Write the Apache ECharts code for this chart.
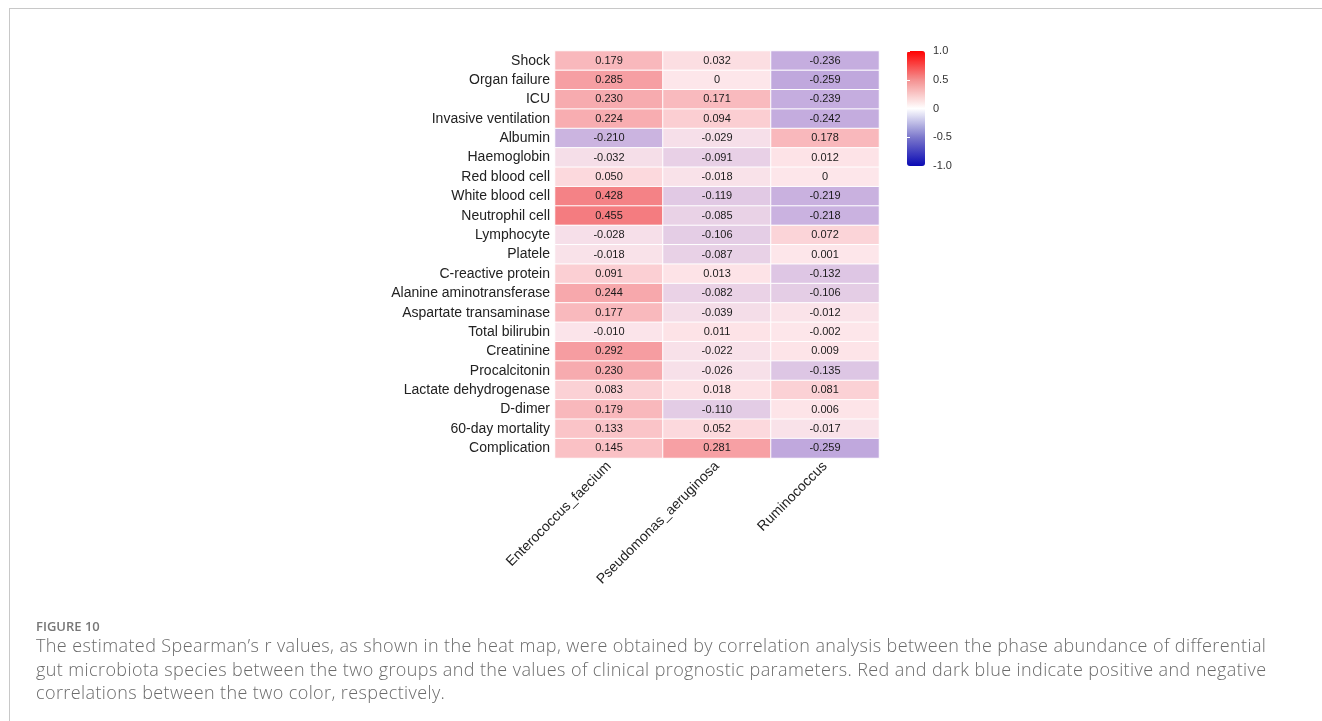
<!DOCTYPE html>
<html>
<head>
<meta charset="utf-8">
<script src="https://cdn.jsdelivr.net/npm/echarts@6/dist/echarts.min.js"></script>
<style>
  html, body { margin: 0; padding: 0; background: #fff; }
  #frame { position: absolute; left: 9px; top: 8px; right: 0; bottom: 0; border-top: 1px solid #c8c8c8; border-left: 1px solid #c8c8c8; }
  #chart { position: absolute; left: 0; top: 0; width: 1322px; height: 721px; }
  #caption { position: absolute; left: 36px; top: 618px; font-family: 'Open Sans', sans-serif; color: #6b6b6b; }
  #caption .fig { font-size: 13px; font-weight: 600; line-height: 16px; color: #777; }
  #caption .txt { font-size: 18px; font-weight: 300; line-height: 23.5px; letter-spacing: 0.4px; white-space: nowrap; margin-top: 0; }
</style>
</head>
<body>
<div id="frame"></div>
<div id="chart"></div>
<div id="caption"><div class="fig">FIGURE 10</div><div class="txt" id="captext"></div></div>
<script>
// clinical parameters (rows, top to bottom)
const params = ['Shock', 'Organ failure', 'ICU', 'Invasive ventilation', 'Albumin', 'Haemoglobin',
  'Red blood cell', 'White blood cell', 'Neutrophil cell', 'Lymphocyte', 'Platele', 'C-reactive protein',
  'Alanine aminotransferase', 'Aspartate transaminase', 'Total bilirubin', 'Creatinine', 'Procalcitonin',
  'Lactate dehydrogenase', 'D-dimer', '60-day mortality', 'Complication']
// microbiota species (columns)
const species = ['Enterococcus_faecium', 'Pseudomonas_aeruginosa', 'Ruminococcus']
// Spearman's r per species, same order as params
const enterococcus = [0.179, 0.285, 0.230, 0.224, -0.210, -0.032, 0.050, 0.428, 0.455, -0.028, -0.018,
  0.091, 0.244, 0.177, -0.010, 0.292, 0.230, 0.083, 0.179, 0.133, 0.145]
const pseudomonas = [0.032, 0, 0.171, 0.094, -0.029, -0.091, -0.018, -0.119, -0.085, -0.106, -0.087,
  0.013, -0.082, -0.039, 0.011, -0.022, -0.026, 0.018, -0.110, 0.052, 0.281]
const ruminococcus = [-0.236, -0.259, -0.239, -0.242, 0.178, 0.012, 0, -0.219, -0.218, 0.072, 0.001,
  -0.132, -0.106, -0.012, -0.002, 0.009, -0.135, 0.081, 0.006, -0.017, -0.259]
// colour bar ticks
const barTicks = [-1, -0.5, 0, 0.5, 1]

const captionLines = [
  'The estimated Spearman\u2019s r values, as shown in the heat map, were obtained by correlation analysis between the phase abundance of differential',
  'gut microbiota species between the two groups and the values of clinical prognostic parameters. Red and dark blue indicate positive and negative',
  'correlations between the two color, respectively.'
]
const capEl = document.getElementById('captext')
captionLines.forEach(t => {
  const d = document.createElement('div')
  d.textContent = t
  capEl.appendChild(d)
})

const font = "'Liberation Sans', Arial, sans-serif"
const cells = []
;[enterococcus, pseudomonas, ruminococcus].forEach((col, i) => {
  col.forEach((v, j) => cells.push([i, j, v]))
})
const fmt = v => v === 0 ? '0' : v.toFixed(3)

const chart = echarts.init(document.getElementById('chart'))
chart.setOption({
  animation: false,
  textStyle: { fontFamily: font },
  grid: [
    { left: 555, top: 51, width: 324, height: 407 },
    { left: 907, top: 51, width: 18, height: 115 }
  ],
  xAxis: [
    {
      type: 'category', data: species, gridIndex: 0,
      axisLine: { show: false }, axisTick: { show: false }, splitLine: { show: false },
      axisLabel: { rotate: 45, fontSize: 14, color: '#222', margin: 6, fontFamily: font }
    },
    { type: 'value', gridIndex: 1, show: false, min: 0, max: 1 }
  ],
  yAxis: [
    {
      type: 'category', data: params, gridIndex: 0, inverse: true,
      axisLine: { show: false }, axisTick: { show: false }, splitLine: { show: false },
      axisLabel: { fontSize: 14, color: '#222', margin: 5, fontFamily: font }
    },
    {
      type: 'value', gridIndex: 1, position: 'right', min: barTicks[0], max: barTicks[4], interval: 0.5, z: 10,
      axisLine: { show: false }, splitLine: { show: false },
      axisTick: { inside: true, length: 3, lineStyle: { color: '#fff', width: 1 } },
      axisLabel: { fontSize: 11, color: '#333', margin: 8, formatter: v => v === 0 ? '0' : v.toFixed(1) }
    },
    {
      type: 'value', gridIndex: 1, position: 'left', min: barTicks[0], max: barTicks[4], interval: 0.5, z: 10,
      axisLine: { show: false }, splitLine: { show: false }, axisLabel: { show: false },
      axisTick: { inside: true, length: 3, lineStyle: { color: '#fff', width: 1 } }
    }
  ],
  visualMap: [
    {
      type: 'continuous', show: false, seriesIndex: 0, min: -0.5, max: 0.5,
      inRange: { color: ['#8a70cf', '#c2aade', '#fde6ea', '#f7a6aa', '#f37377'] }
    },
    {
      type: 'continuous', seriesIndex: 1, min: -1, max: 1, left: 907, top: 51,
      itemWidth: 18, itemHeight: 115, padding: 0, calculable: false, hoverLink: false,
      inRange: { color: ['#0a0ab4', '#7c78cc', '#ffffff', '#f49090', '#ff0000'] }
    }
  ],
  series: [
    {
      type: 'heatmap', xAxisIndex: 0, yAxisIndex: 0, data: cells,
      itemStyle: { borderColor: '#fff', borderWidth: 1 },
      label: { show: true, fontSize: 11, color: '#1a1a1a', fontFamily: font, formatter: p => fmt(p.value[2]) }
    },
    { type: 'scatter', xAxisIndex: 1, yAxisIndex: 1, data: [] }
  ]
})
</script>
</body>
</html>
